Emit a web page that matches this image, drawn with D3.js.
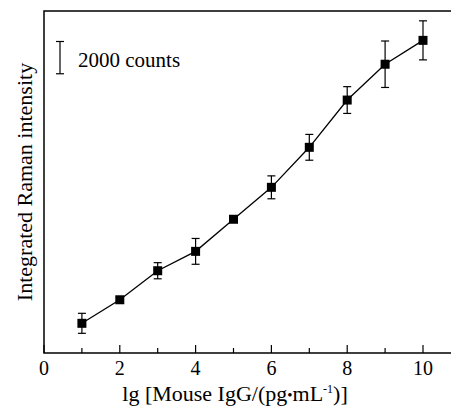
<!DOCTYPE html>
<html>
<head>
<meta charset="utf-8">
<script src="https://cdn.jsdelivr.net/npm/d3@7"></script>
<style>
  body { margin: 0; background: #fff; }
  text { font-family: "Liberation Serif", "Times New Roman", serif; fill: #000; }
</style>
</head>
<body>
<script>
// data (integrated intensity in counts)
var lgConc = [1, 2, 3, 4, 5, 6, 7, 8, 9, 10];
var intensity = [1840, 3300, 5100, 6300, 8290, 10270, 12750, 15680, 17900, 19380];
var errors = [620, 150, 500, 800, 180, 710, 800, 830, 1440, 1210];
var xTicks = [0, 2, 4, 6, 8, 10];
var scaleBarCounts = 2000;

// dimensions
var width = 451;
var height = 408;
var plotLeft = 44, plotTop = 11, plotBottom = 353;

var svg = d3.select("body")
  .append("svg")
  .attr("width", width)
  .attr("height", height);

var x = d3.scaleLinear().domain([0, 10]).range([plotLeft, 423]);
var y = d3.scaleLinear().domain([0, 21200]).range([plotBottom, plotTop]);

// frame (left, top, bottom)
svg.append("path")
  .attr("d", "M" + width + "," + plotTop + "H" + plotLeft + "V" + plotBottom + "H" + width)
  .attr("fill", "none")
  .attr("stroke", "#000")
  .attr("stroke-width", 1.5);

// x ticks, inward
var allTicks = d3.range(0, 11);
svg.selectAll(".tick")
  .data(allTicks)
  .enter().append("line")
  .attr("x1", function (d) { return x(d); })
  .attr("x2", function (d) { return x(d); })
  .attr("y1", plotBottom)
  .attr("y2", function (d) { return d % 2 === 0 ? plotBottom - 8 : plotBottom - 5; })
  .attr("stroke", "#000")
  .attr("stroke-width", 1.2);

svg.selectAll(".ticklabel")
  .data(xTicks)
  .enter().append("text")
  .attr("x", function (d) { return x(d); })
  .attr("y", 375)
  .attr("text-anchor", "middle")
  .style("font-size", "20px")
  .text(function (d) { return d; });

// axis titles
var xt = svg.append("text")
  .attr("x", 235)
  .attr("y", 401)
  .attr("text-anchor", "middle")
  .style("font-size", "22px");
xt.append("tspan").text("lg [Mouse IgG/(pg");
xt.append("tspan").text("\u2022").style("font-size", "15px").attr("dy", -1);
xt.append("tspan").text("mL").attr("dy", 1);
xt.append("tspan").text("-1").style("font-size", "12px").attr("dy", -8);
xt.append("tspan").text(")]").attr("dy", 8);

svg.append("text")
  .attr("transform", "translate(32,182) rotate(-90)")
  .attr("text-anchor", "middle")
  .style("font-size", "22px")
  .text("Integrated Raman intensity");

// line
var line = d3.line()
  .x(function (d, i) { return x(lgConc[i]); })
  .y(function (d) { return y(d); });

svg.append("path")
  .datum(intensity)
  .attr("d", line)
  .attr("fill", "none")
  .attr("stroke", "#000")
  .attr("stroke-width", 1.3);

// error bars
var eb = svg.selectAll(".err")
  .data(intensity)
  .enter().append("g");

eb.append("line")
  .attr("x1", function (d, i) { return x(lgConc[i]); })
  .attr("x2", function (d, i) { return x(lgConc[i]); })
  .attr("y1", function (d, i) { return y(d + errors[i]); })
  .attr("y2", function (d, i) { return y(d - errors[i]); })
  .attr("stroke", "#000")
  .attr("stroke-width", 1.2);

[1, -1].forEach(function (s) {
  eb.append("line")
    .attr("x1", function (d, i) { return x(lgConc[i]) - 4; })
    .attr("x2", function (d, i) { return x(lgConc[i]) + 4; })
    .attr("y1", function (d, i) { return y(d + s * errors[i]); })
    .attr("y2", function (d, i) { return y(d + s * errors[i]); })
    .attr("stroke", "#000")
    .attr("stroke-width", 1.2);
});

// square markers
svg.selectAll(".pt")
  .data(intensity)
  .enter().append("rect")
  .attr("x", function (d, i) { return x(lgConc[i]) - 4.5; })
  .attr("y", function (d) { return y(d) - 4.5; })
  .attr("width", 9)
  .attr("height", 9)
  .attr("fill", "#000");

// scale bar
var sbTop = 41.5;
var sbLen = y(0) - y(scaleBarCounts);
svg.append("line")
  .attr("x1", 60).attr("x2", 60)
  .attr("y1", sbTop).attr("y2", sbTop + sbLen)
  .attr("stroke", "#000").attr("stroke-width", 1.2);
[sbTop, sbTop + sbLen].forEach(function (yy) {
  svg.append("line")
    .attr("x1", 56).attr("x2", 64)
    .attr("y1", yy).attr("y2", yy)
    .attr("stroke", "#000").attr("stroke-width", 1.2);
});
svg.append("text")
  .attr("x", 78)
  .attr("y", 67)
  .style("font-size", "21px")
  .text(scaleBarCounts + " counts");
</script>
</body>
</html>
